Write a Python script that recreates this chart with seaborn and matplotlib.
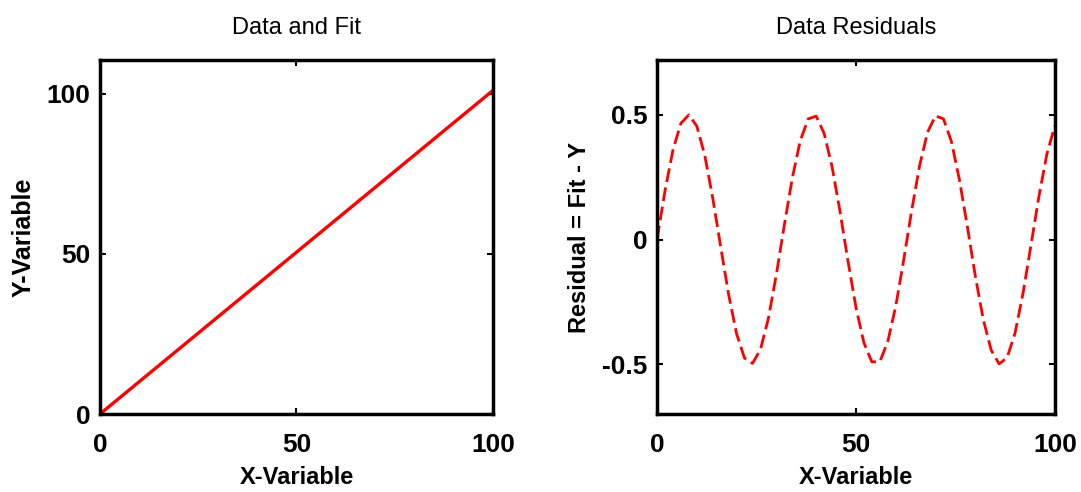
import matplotlib
matplotlib.use("Agg")
import matplotlib.pyplot as plt
import seaborn as sns
import pandas as pd

# Data
fit_x = [0, 10, 20, 30, 40, 50, 60, 70, 80, 90, 100]
fit_y = [0, 10.1, 20.2, 30.3, 40.4, 50.5, 60.6, 70.7, 80.8, 90.9, 101.0]

res_x = [0, 2, 4, 6, 8, 10, 12, 14, 16, 18, 20, 22, 24, 26, 28, 30, 32, 34, 36, 38,
         40, 42, 44, 46, 48, 50, 52, 54, 56, 58, 60, 62, 64, 66, 68, 70, 72, 74, 76,
         78, 80, 82, 84, 86, 88, 90, 92, 94, 96, 98, 100]
res_y = [0.0, 0.195, 0.359, 0.466, 0.500, 0.455, 0.338, 0.167, -0.029, -0.221,
         -0.378, -0.476, -0.497, -0.441, -0.316, -0.140, 0.058, 0.246, 0.396, 0.484,
         0.495, 0.426, 0.292, 0.112, -0.086, -0.272, -0.414, -0.491, -0.490, -0.410,
         -0.268, -0.083, 0.115, 0.296, 0.430, 0.496, 0.484, 0.393, 0.241, 0.053,
         -0.146, -0.320, -0.444, -0.499, -0.474, -0.375, -0.216, -0.023, 0.173,
         0.343, 0.456]

x_ticks = [0, 50, 100]
left_yticks = [0, 50, 100]
right_yticks = [-0.5, 0, 0.5]
right_yticklabels = ["-0.5", "0", "0.5"]

sns.set_style("ticks")
plt.rcParams["font.family"] = ["Liberation Sans", "DejaVu Sans"]
plt.rcParams["text.color"] = "black"
plt.rcParams["axes.labelcolor"] = "black"

fig = plt.figure(figsize=(10.81, 4.92), dpi=100)
ax1 = fig.add_axes([0.0925, 0.1585, 0.3635, 0.7195])
ax2 = fig.add_axes([0.6078, 0.1585, 0.3680, 0.7195])

df1 = pd.DataFrame({"x": fit_x, "y": fit_y})
df2 = pd.DataFrame({"x": res_x, "y": res_y})

sns.lineplot(data=df1, x="x", y="y", ax=ax1, color="red", linewidth=2.4)
sns.lineplot(data=df2, x="x", y="y", ax=ax2, color="red", linewidth=2.0,
             linestyle=(0, (5, 2)))

for ax in (ax1, ax2):
    ax.set_xlim(0, 100)
    ax.set_xticks(x_ticks)
    ax.tick_params(direction="in", length=4, width=1.5, top=True, right=True,
                   labelsize=19, colors="black")
    ax.tick_params(axis="x", pad=14)
    ax.tick_params(axis="y", pad=7)
    for s in ax.spines.values():
        s.set_linewidth(2.5)
        s.set_color("black")
    ax.set_xlabel("X-Variable", fontsize=17, fontweight="bold", labelpad=6)

ax1.set_ylim(0, 110.5)
ax1.set_yticks(left_yticks)
ax1.set_ylabel("Y-Variable", fontsize=18, fontweight="bold", labelpad=8)
ax1.set_title("Data and Fit", fontsize=17, pad=19)

ax2.set_ylim(-0.7, 0.72)
ax2.set_yticks(right_yticks)
ax2.set_yticklabels(right_yticklabels)
ax2.set_ylabel("Residual = Fit - Y", fontsize=17, fontweight="bold", labelpad=8)
ax2.set_title("Data Residuals", fontsize=17, pad=19)

for ax in (ax1, ax2):
    for lab in ax.get_xticklabels() + ax.get_yticklabels():
        lab.set_fontweight("bold")

fig.savefig("out.png", dpi=100, facecolor="white")
